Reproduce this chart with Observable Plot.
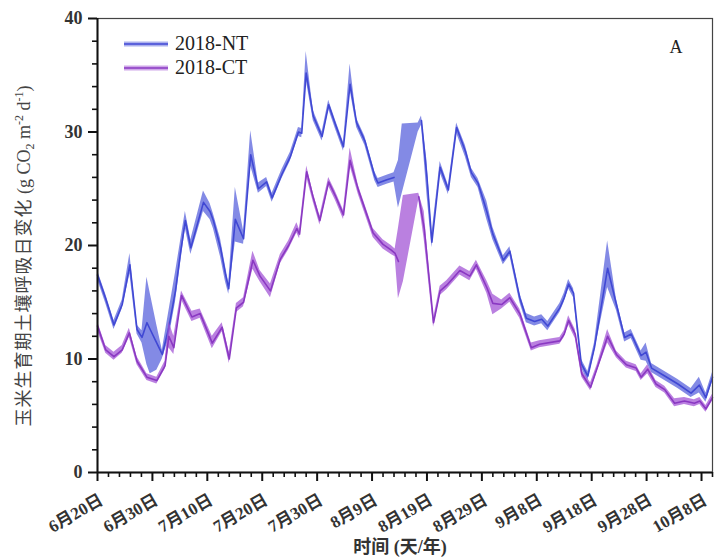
<!DOCTYPE html>
<html>
<head>
<meta charset="utf-8">
<script src="https://cdn.jsdelivr.net/npm/d3@7"></script>
<script src="https://cdn.jsdelivr.net/npm/@observablehq/plot@0.6"></script>
<style>
  html, body { margin: 0; padding: 0; background: #fff; }
</style>
</head>
<body>
<div id="chart"></div>
<script>
// ---- data: [day since 6月20日, low, mean, high] ----
const ntData = [
  [0,17.0,17.4,17.8],[1.5,14.9,15.3,15.7],[3,12.6,13.0,13.4],[4.5,14.4,14.8,15.2],
  [5.9,17.5,18.3,19.3],[7.2,12.2,12.6,13.0],[8.1,11.4,11.9,12.5],[9,9.5,13.2,17.2],
  [9.6,8.7,12.6,15.8],[10.8,9.0,11.4,13.0],[11.8,10.0,10.4,10.8],[13,11.8,12.8,14.2],
  [14.2,15.0,16.0,17.6],[15.1,18.3,19.3,20.3],[16,21.5,22.2,23.0],[17,19.2,19.8,20.5],
  [19.3,23.0,23.8,24.8],[20.5,22.3,23.0,23.7],[21.1,21.5,22.2,22.8],[22.4,19.0,19.8,20.6],
  [23.3,16.8,17.5,18.2],[23.9,15.7,16.2,16.7],[25.1,20.3,22.3,25.1],[26.6,20.1,20.6,21.3],
  [27.9,27.0,28.0,30.1],[29.3,24.6,25.0,25.5],[30.8,25.2,25.6,26.0],[31.8,23.8,24.2,24.6],
  [33.6,25.9,26.3,26.7],[35.1,27.4,27.8,28.2],[36.6,29.6,30.0,30.4],[37.2,29.5,29.9,30.3],
  [38,34.6,35.2,37.1],[39.3,31.0,31.4,31.9],[40.9,29.2,29.6,30.0],[42.1,32.0,32.4,32.8],
  [43.3,30.3,30.7,31.1],[44.8,28.3,28.7,29.1],[46,33.7,34.2,36.0],[47.2,30.4,30.8,31.2],
  [48.7,28.8,29.2,29.6],[50.5,25.7,26.1,26.5],[51.1,25.1,25.5,25.9],[52.7,25.4,25.8,26.2],
  [54,25.6,26.0,26.4],[54.8,23.3,null,27.5],[55.5,24.6,null,30.7],[58.4,30.0,null,30.8],
  [59,30.6,31.0,31.4],[60,24.5,26.0,27.5],[60.9,19.8,20.3,21.0],[62.4,26.4,26.9,27.4],
  [63.9,24.5,24.9,25.3],[65.4,29.9,30.4,30.8],[67,27.8,28.3,28.8],[68.1,26.0,26.4,26.8],
  [69.3,25.1,25.5,25.9],[70.9,22.3,23.0,23.9],[72,20.5,21.0,21.6],[73.9,18.3,18.7,19.1],
  [75.1,19.1,19.5,19.9],[76.9,15.0,15.4,15.8],[78.1,13.2,13.6,14.0],[79.6,12.9,13.3,13.7],
  [80.9,13.1,13.5,13.9],[82,12.5,12.9,13.3],[84.2,14.1,14.5,14.9],[85,15.0,15.4,15.8],
  [85.8,16.2,16.6,17.0],[86.7,15.4,15.8,16.2],[88.1,9.2,9.6,10.0],[89.3,8.1,8.5,8.9],
  [90.5,10.6,11.0,11.4],[92.9,16.3,18.0,20.4],[94.5,14.3,14.8,15.3],[96,11.5,11.9,12.3],
  [97.2,11.8,12.2,12.6],[99,9.9,10.3,10.7],[99.9,9.8,10.6,11.4],[100.9,8.8,9.2,9.6],
  [103.3,8.1,8.5,8.9],[105.7,7.4,7.8,8.2],[108.1,6.6,7.0,7.4],[109.6,7.0,7.7,8.4],
  [110.8,6.2,6.6,7.0],[112,8.0,8.4,8.8]
];
const ctData = [
  [0,12.5,12.9,13.3],[1.5,10.5,10.8,11.2],[3,9.9,10.2,10.6],[4.5,10.5,10.8,11.2],
  [5.8,11.9,12.3,12.7],[7.2,9.5,9.8,10.2],[9,8.1,8.4,8.7],[10.8,7.8,8.1,8.4],
  [12.3,9.1,9.4,9.8],[13,11.0,12.0,13.3],[13.9,10.4,11.0,12.0],[15.3,15.2,15.6,16.0],
  [17.2,13.3,13.7,14.2],[18.7,13.6,14.0,14.4],[20.9,10.9,11.4,12.0],[22.7,12.4,12.8,13.2],
  [24,9.6,10.0,10.6],[25.3,14.1,14.5,14.9],[26.6,14.6,15.0,15.4],[28.3,17.9,18.7,19.5],
  [29.6,16.8,17.3,17.8],[31.5,15.4,16.0,16.6],[33.3,18.4,18.8,19.2],[34.8,19.6,20.0,20.4],
  [36.3,21.1,21.5,22.0],[36.8,20.6,21.0,21.4],[38.1,26.0,26.5,27.0],[39.3,23.8,24.2,24.6],
  [40.5,21.8,22.2,22.6],[42.1,25.2,25.6,26.0],[43.3,24.0,24.4,24.8],[44.8,22.3,22.7,23.1],
  [46,27.0,27.5,28.6],[47.5,24.5,24.9,25.3],[50.2,20.7,21.1,21.5],[52,19.7,20.1,20.5],
  [53.5,19.2,19.6,20.0],[54.2,19.0,19.3,19.7],[54.8,15.3,18.6,21.5],[55.7,16.8,null,24.4],
  [58.5,24.0,24.3,24.6],[59.5,20.5,21.5,23.0],[61.2,12.8,13.2,13.6],[62.4,15.6,16.0,16.4],
  [63.6,16.1,16.5,16.9],[66,17.4,17.8,18.2],[67.8,16.9,17.3,17.7],[69,17.9,18.3,18.7],
  [70.9,15.8,16.3,16.9],[72,13.9,14.9,15.7],[73.6,14.4,14.8,15.2],[75.1,15.0,15.4,15.8],
  [76.9,13.6,14.0,14.4],[79,10.7,11.0,11.4],[80.5,11.0,11.3,11.6],[84.2,11.3,11.6,11.9],
  [85,11.9,12.2,12.5],[85.8,13.0,13.4,13.8],[87,11.8,12.2,12.6],[88.2,8.4,8.7,9.0],
  [89.8,7.2,7.5,7.9],[91,8.9,9.2,9.5],[92.9,11.4,12.0,12.6],[94.5,10.1,10.4,10.7],
  [96.3,9.2,9.5,9.8],[98.1,8.9,9.2,9.5],[99,8.1,8.4,8.7],[100.2,8.7,9.1,9.5],
  [101.7,7.5,7.8,8.1],[103.3,7.0,7.3,7.6],[105.1,5.8,6.1,6.5],[106.9,6.0,6.3,6.6],
  [108.7,5.8,6.1,6.4],[109.7,6.0,6.3,6.6],[110.8,5.3,5.6,5.9],[112,6.3,6.6,6.9]
];
const seriesNames = ["2018-NT", "2018-CT"];
const xTickDays = [0,10,20,30,40,50,60,70,80,90,100,110];
const xTickLabels = ["6月20日","6月30日","7月10日","7月20日","7月30日","8月9日","8月19日","8月29日","9月8日","9月18日","9月28日","10月8日"];
const xMinorDays = d3.range(0, 113, 2).filter(d => d % 10 !== 0);
const yTicks = [0,10,20,30,40];
const yMinor = d3.range(0, 41, 2).filter(d => d % 10 !== 0);
const panelLabel = "A";
const xTitle = "时间 (天/年)";

// ---- styles ----
const colors = {
  nt: {band: "#5a63dc", line: "#4048d4"},
  ct: {band: "#a04fd4", line: "#8a38c2"}
};
const serif = "'Liberation Serif', 'Noto Sans CJK SC', serif";

const chart = Plot.plot({
  width: 714,
  height: 560,
  marginLeft: 97,
  marginRight: 2,
  marginTop: 18,
  marginBottom: 88,
  style: {fontFamily: serif, fontSize: "16px", color: "#222", background: "#fff"},
  x: {domain: [0, 112], axis: null},
  y: {domain: [0, 40], axis: null},
  marks: [
    Plot.areaY(ntData, {x: d => d[0], y1: d => d[1], y2: d => d[3], fill: colors.nt.band, fillOpacity: 0.75}),
    Plot.lineY(ntData, {x: d => d[0], y: d => d[2], stroke: colors.nt.line, strokeWidth: 1.6}),
    Plot.areaY(ctData, {x: d => d[0], y1: d => d[1], y2: d => d[3], fill: colors.ct.band, fillOpacity: 0.72}),
    Plot.lineY(ctData, {x: d => d[0], y: d => d[2], stroke: colors.ct.line, strokeWidth: 1.6}),
    Plot.frame({stroke: "#444", strokeWidth: 1.2}),
    Plot.ruleY([0], {stroke: "#111", strokeWidth: 2}),
    Plot.ruleX([0], {stroke: "#111", strokeWidth: 2}),
    Plot.axisX({ticks: xTickDays, tickSize: 9, tickFormat: () => "", label: null, strokeWidth: 2, stroke: "#111"}),
    Plot.axisX({ticks: xMinorDays, tickSize: 5, tickFormat: () => "", label: null, strokeWidth: 1.6, stroke: "#111"}),
    Plot.axisY({ticks: yTicks, tickSize: 9, tickPadding: 6, label: null, strokeWidth: 2, stroke: "#111", fontSize: 18, fontWeight: "bold", fill: "#333"}),
    Plot.axisY({ticks: yMinor, tickSize: 5, tickFormat: () => "", label: null, strokeWidth: 1.6, stroke: "#111"}),
    Plot.text(xTickDays, {x: d => d, y: 0, text: (d, i) => xTickLabels[i], rotate: -30, textAnchor: "end", lineAnchor: "middle", dx: 4, dy: 26, fontSize: 17, fontWeight: "bold", fill: "#333"}),
    Plot.text([panelLabel], {frameAnchor: "top-right", dx: -30, dy: 22, text: d => d, fontSize: 18, fill: "#222"})
  ]
});

document.getElementById("chart").appendChild(chart);

// legend + axis titles (layout only)
const svg = d3.select(chart);
const lg = svg.append("g").attr("text-anchor", "start");
[["nt", seriesNames[0]], ["ct", seriesNames[1]]].forEach(([k, name], i) => {
  const y = 44 + i * 24;
  lg.append("line").attr("x1", 124).attr("x2", 168).attr("y1", y).attr("y2", y)
    .attr("stroke", colors[k].band).attr("stroke-opacity", 0.5).attr("stroke-width", 5);
  lg.append("line").attr("x1", 124).attr("x2", 168).attr("y1", y).attr("y2", y)
    .attr("stroke", colors[k].line).attr("stroke-width", 1.3);
  lg.append("text").attr("x", 175).attr("y", y + 6).attr("font-family", serif)
    .attr("text-anchor", "start")
    .attr("font-size", 20).attr("fill", "#222").text(name);
});

const yt = svg.append("text")
  .attr("transform", "translate(30,256) rotate(-90)")
  .attr("text-anchor", "middle")
  .attr("font-size", 18)
  .attr("fill", "#444")
  .attr("font-family", serif);
yt.append("tspan").attr("font-family", "'Noto Sans CJK SC', sans-serif").attr("letter-spacing", 1).text("玉米生育期土壤呼吸日变化");
yt.append("tspan").text(" (g CO");
yt.append("tspan").attr("font-size", 12).attr("dy", 4).text("2");
yt.append("tspan").attr("dy", -4).text(" m");
yt.append("tspan").attr("font-size", 12).attr("dy", -7).text("-2");
yt.append("tspan").attr("dy", 7).text(" d");
yt.append("tspan").attr("font-size", 12).attr("dy", -7).text("-1");
yt.append("tspan").attr("dy", 7).text(")");

svg.append("text")
  .attr("x", 400).attr("y", 553)
  .attr("text-anchor", "middle")
  .attr("font-size", 18)
  .attr("font-weight", "bold")
  .attr("fill", "#333")
  .attr("font-family", serif)
  .text(xTitle);
</script>
</body>
</html>
